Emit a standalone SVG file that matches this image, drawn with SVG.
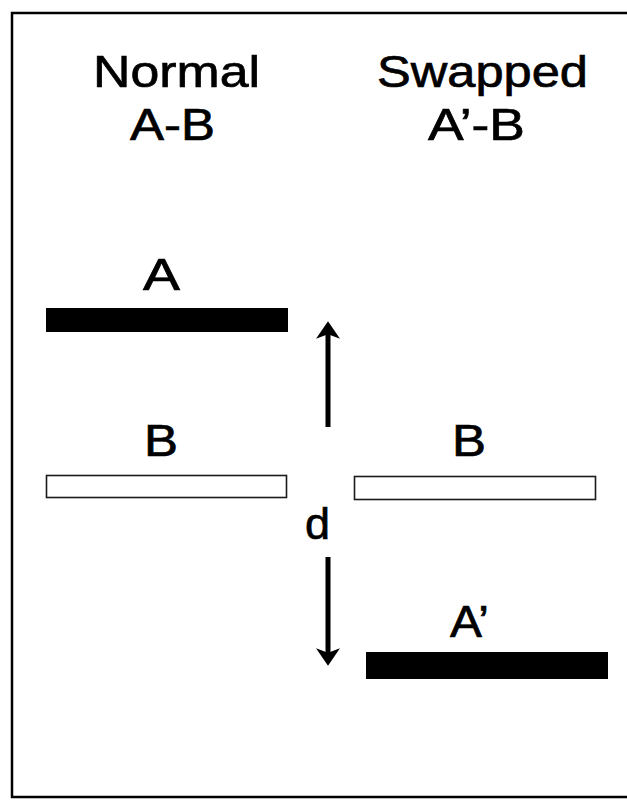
<svg xmlns="http://www.w3.org/2000/svg" width="627" height="801" viewBox="0 0 627 801">
<style>
  text { font-family: "Liberation Sans", Arial, sans-serif; font-size: 45px; fill: #000; stroke: #000; stroke-width: 0.7; }
  .dark { fill: #000; }
  .light { fill: #fff; stroke: #1a1a1a; stroke-width: 1.6; }
  .conn { stroke: #000; stroke-width: 5; fill: none; marker-end: url(#head); }
</style>
<defs>
  <marker id="head" markerUnits="userSpaceOnUse" markerWidth="18" markerHeight="24" viewBox="0 0 16 22" refX="8" refY="11" orient="auto">
    <path d="M0,0 L16,11 L0,22 L4,11 Z" fill="#000"/>
  </marker>
</defs>
<rect x="0" y="0" width="627" height="801" fill="#fff"/>
<rect id="frame" x="12" y="13" width="640" height="784" fill="none" stroke="#000" stroke-width="2.5"/>
<g id="title-normal">
  <text x="93" y="87" textLength="167" lengthAdjust="spacingAndGlyphs">Normal</text>
  <text x="130" y="140" textLength="85" lengthAdjust="spacingAndGlyphs">A-B</text>
</g>
<g id="title-swapped">
  <text x="377" y="87" textLength="211" lengthAdjust="spacingAndGlyphs">Swapped</text>
  <text x="428" y="140" textLength="97" lengthAdjust="spacingAndGlyphs">A’-B</text>
</g>
<g id="node-A">
  <text x="143" y="290" textLength="37" lengthAdjust="spacingAndGlyphs">A</text>
  <rect class="dark" x="46" y="308" width="242" height="24"/>
</g>
<g id="node-B-left">
  <text x="144" y="456" textLength="34" lengthAdjust="spacingAndGlyphs">B</text>
  <rect class="light" x="46.5" y="475.5" width="240" height="22"/>
</g>
<g id="node-B-right">
  <text x="452" y="456" textLength="34" lengthAdjust="spacingAndGlyphs">B</text>
  <rect class="light" x="354.5" y="476.5" width="241" height="23"/>
</g>
<g id="node-A-prime">
  <text x="450" y="637" textLength="39" lengthAdjust="spacingAndGlyphs">A’</text>
  <rect class="dark" x="366" y="652" width="242" height="27"/>
</g>
<g id="connectors">
  <line class="conn" x1="328" y1="427" x2="328" y2="330"/>
  <line class="conn" x1="328" y1="557" x2="328" y2="657"/>
  <text x="305" y="539" textLength="25" lengthAdjust="spacingAndGlyphs">d</text>
</g>
</svg>
